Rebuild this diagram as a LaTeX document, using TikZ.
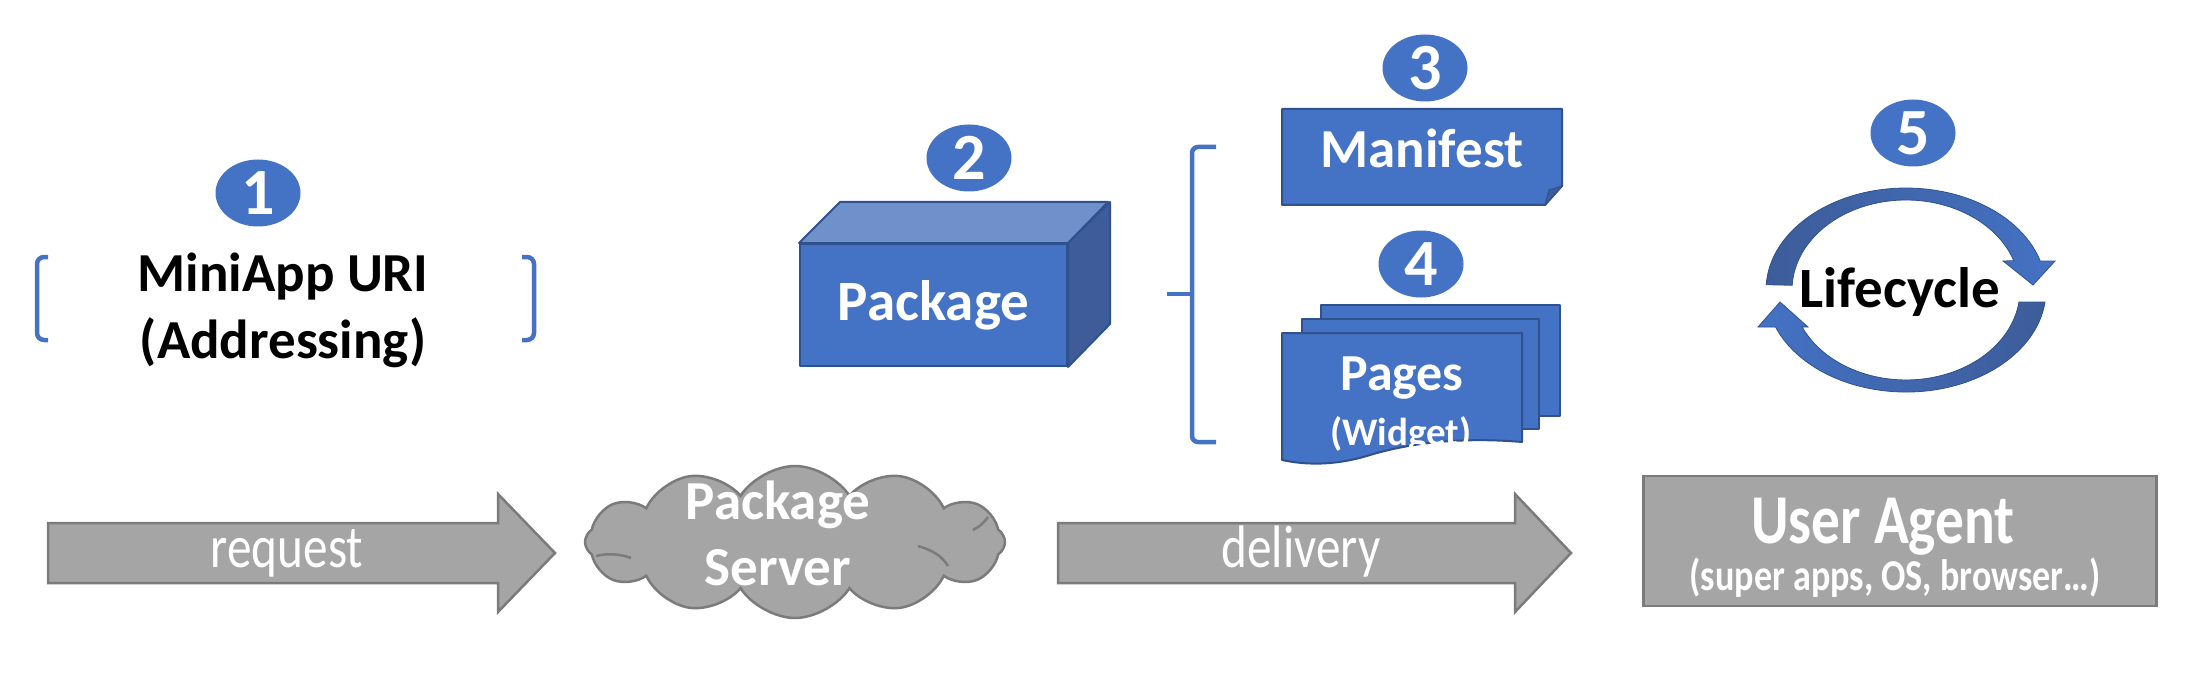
\documentclass[tikz,border=0pt]{standalone}
\usepackage{fontspec}
\setmainfont{Carlito}
\newfontfamily\narrowfont{Carlito}[FakeStretch=0.82]
\usetikzlibrary{shapes.geometric,shapes.symbols}
\definecolor{officeblue}{HTML}{4472C4}
\definecolor{darkblue}{HTML}{2F528F}
\definecolor{lightblue}{HTML}{7090CC}
\definecolor{sideblue}{HTML}{3D5C99}
\definecolor{boxgray}{HTML}{A5A5A5}
\definecolor{linegray}{HTML}{7B7B7B}
\begin{document}
\begin{tikzpicture}[x=1pt,y=-1pt,
        num/.style={ellipse,fill=officeblue,text=white,inner sep=0pt,
            minimum width=85pt,minimum height=67pt,
            font=\fontsize{66}{66}\selectfont\bfseries},
        bluebox/.style={fill=officeblue,draw=darkblue,line width=2pt,line join=round},
        graybox/.style={fill=boxgray,draw=linegray,line width=2.5pt},
        bluebar/.style={draw=officeblue,line width=4.5pt,rounded corners=7pt},
        whitetext/.style={text=white,inner sep=0pt,anchor=base},
        boldsize/.style={font=\fontsize{#1}{#1}\selectfont\bfseries}]
    \useasboundingbox (0,0) rectangle (2195,695);

    \node [num] (one) at (258,193) {1};
    \node [align=center,inner sep=0pt,font=\fontsize{55}{67}\selectfont\bfseries]
        (uri) at (283,310) {MiniApp URI\\(Addressing)};
    \draw [bluebar] (48,257) -- (37,257) -- (37,340) -- (48,340);
    \draw [bluebar] (522,257) -- (534,257) -- (534,340) -- (522,340);

    \node [num] (two) at (969,158) {2};
    \node [bluebox,text=white,boldsize=57,minimum width=267pt,minimum height=122pt]
        (package) at (933.5,305) {Package};
    \draw [bluebox,fill=lightblue] (package.north west) -- ++(41,-41) -- ++(268,0)
        -- (package.north east) -- cycle;
    \draw [bluebox,fill=sideblue] (package.north east) -- ++(42,-41) -- ++(0,122)
        -- (package.south east) -- cycle;

    \draw [bluebar,rounded corners=6pt] (1216,147) -- (1192,147) -- (1192,442) -- (1216,442);
    \draw [draw=officeblue,line width=4.5pt] (1167,294) -- (1192,294);

    \node [num] (three) at (1425,68) {3};
    \draw [bluebox] (1282,109) -- (1562,109) -- (1562,186) -- (1545,205) -- (1282,205) -- cycle;
    \draw [bluebox,fill=sideblue,line width=1pt] (1545,205) -- (1549,190) -- (1562,186) -- cycle;
    \node [whitetext,boldsize=55] (manifest) at (1422,168) {Manifest};

    \node [num] (four) at (1421,264) {4};
    \draw [bluebox] (1321,305) rectangle (1560,416);
    \draw [bluebox] (1302,319) rectangle (1539,429);
    \draw [bluebox] (1282,333) -- (1522,333) -- (1522,442)
        .. controls (1450,436) and (1400,446) .. (1370,455)
        .. controls (1335,466) and (1305,465) .. (1282,460) -- cycle;
    \node [whitetext,boldsize=52] (pages) at (1402,390) {Pages};
    \node [whitetext,boldsize=39] (widget) at (1401,445) {(Widget)};

    \node [num] (five) at (1913,133) {5};
    \draw [left color=sideblue,right color=officeblue,draw=darkblue,line width=0.8pt]
        (1766.2,284.7) arc [start angle=183,end angle=343.5,x radius=140,y radius=102]
        -- (2055,261) -- (2033,285) -- (2003,261) -- (2013.8,260.7)
        arc [start angle=341,end angle=183,x radius=114,y radius=90] -- cycle;
    \draw [left color=officeblue,right color=sideblue,draw=darkblue,line width=0.8pt]
        (2045,302.1) arc [start angle=6.8,end angle=158.7,x radius=140,y radius=102]
        -- (1758,327) -- (1780,302) -- (1808,327) -- (1802.1,327)
        arc [start angle=155.7,end angle=7.7,x radius=114,y radius=90] -- cycle;
    \node [anchor=base,inner sep=0pt,boldsize=57] (lifecycle) at (1900,307) {Lifecycle};

    \draw [graybox] (48,523) -- (498,523) -- (498,494) -- (555,553) -- (498,612)
        -- (498,583) -- (48,583) -- cycle;
    \node [whitetext,font=\narrowfont\fontsize{60}{60}\selectfont] (request) at (287,567) {request};

    \node [cloud,cloud puffs=12,cloud puff arc=115,aspect=2.7,graybox,inner sep=0pt,
        minimum width=420pt,minimum height=152pt] (server) at (795,542) {};
    \draw [linegray,line width=2.5pt] (596,556) .. controls (608,553) and (620,554) .. (631,558);
    \draw [linegray,line width=2.5pt] (918,546) .. controls (932,550) and (942,556) .. (948,566);
    \draw [linegray,line width=2.5pt] (988,517) .. controls (984,523) and (979,527) .. (973,530);
    \node [text=white,align=center,inner sep=0pt,font=\fontsize{55}{66}\selectfont\bfseries]
        (servername) at (778,533) {Package\\Server};

    \draw [graybox] (1058,523) -- (1515,523) -- (1515,494) -- (1571,553) -- (1515,612)
        -- (1515,583) -- (1058,583) -- cycle;
    \node [whitetext,font=\narrowfont\fontsize{60}{60}\selectfont] (delivery) at (1301,567) {delivery};

    \node [graybox,minimum width=513pt,minimum height=130pt] (agent) at (1900,541) {};
    \node [whitetext,font=\narrowfont\fontsize{70}{70}\selectfont\bfseries] (agentname) at (1883,543) {User Agent};
    \node [whitetext,font=\narrowfont\fontsize{44}{44}\selectfont\bfseries] (agentkind) at (1895,590) {(super apps, OS, browser…)};
\end{tikzpicture}
\end{document}
